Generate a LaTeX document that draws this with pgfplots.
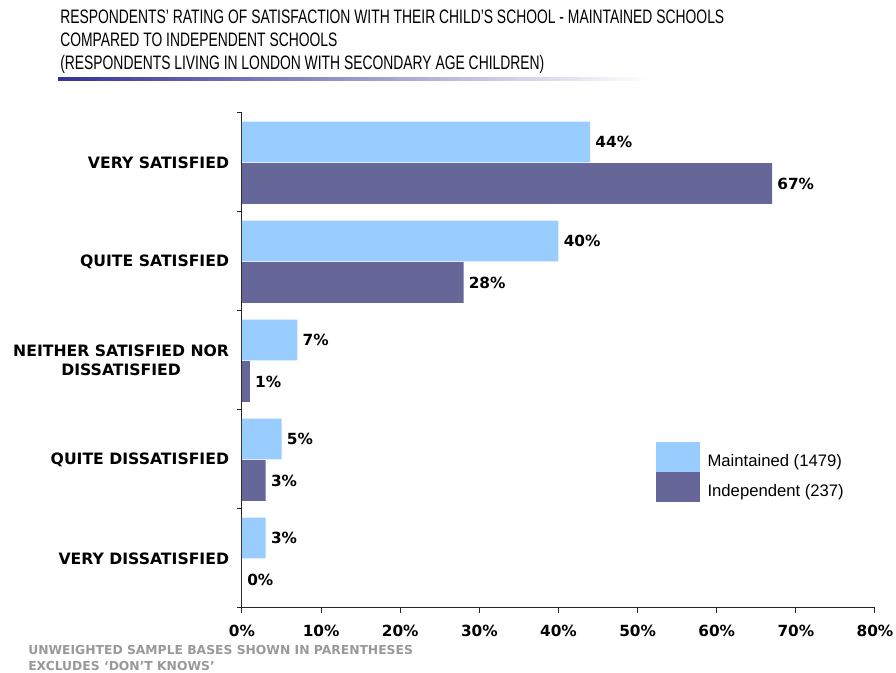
\documentclass[border=0pt]{standalone}
\usepackage{fontspec}
\setmainfont{DejaVu Sans}
\newfontfamily\titlefont[FakeStretch=0.713]{Liberation Sans}
\newfontfamily\legfont{Liberation Sans}
\usepackage{pgfplots}
\pgfplotsset{compat=1.18}
\definecolor{maint}{HTML}{99CCFF}
\definecolor{indep}{HTML}{666699}
\definecolor{ulblue}{HTML}{333399}
\definecolor{foot}{HTML}{999999}
\pgfplotsset{boxlegend/.style={legend image code/.code={\fill[##1] (0pt,-11.25pt) rectangle (33pt,11.25pt);}}}
\begin{document}
\begin{tikzpicture}[x=0.75pt,y=0.75pt]
% pixel coordinates: (X, 673 - Y)
\path[use as bounding box] (0,0) rectangle (896,673);
\begin{scope}[every node/.style={anchor=base west, inner sep=0pt, font=\titlefont\fontsize{14.6}{18}\selectfont}]
\node at (60,649) {RESPONDENTS’ RATING OF SATISFACTION WITH THEIR CHILD’S SCHOOL - MAINTAINED SCHOOLS};
\node at (60,626) {COMPARED TO INDEPENDENT SCHOOLS};
\node at (60,603) {(RESPONDENTS LIVING IN LONDON WITH SECONDARY AGE CHILDREN)};
\end{scope}
\shade[left color=ulblue, right color=white] (58,592) rectangle (650,595);
\begin{axis}[
  at={(181.5pt,48.75pt)}, anchor=south west, scale only axis,
  width=474.75pt, height=371.25pt,
  xmin=0, xmax=80, ymin=0, ymax=5,
  axis x line*=bottom, axis y line*=left,
  axis line style={-, black!85, line width=0.75pt},
  xtick={0,10,...,80},
  xticklabel={\pgfmathprintnumber{\tick}\%},
  ytick={0.5,1.5,2.5,3.5,4.5},
  yticklabels={VERY DISSATISFIED, QUITE DISSATISFIED, {NEITHER SATISFIED NOR\\DISSATISFIED}, QUITE SATISFIED, VERY SATISFIED},
  minor ytick={0,1,2,3,4,5},
  tick align=outside,
  xtick style={black!85, line width=0.75pt, /pgfplots/major tick length=3.75pt},
  ytick style={/pgfplots/major tick length=0pt},
  minor tick style={black!85, line width=0.75pt},
  minor tick length=3.75pt,
  /pgf/number format/assume math mode=true,
  ticklabel style={font=\bfseries\fontsize{11.5}{13}\selectfont},
  xticklabel style={inner sep=0pt, yshift=-8.6pt},
  yticklabel style={inner sep=0pt, xshift=-5.25pt, align=center, font=\bfseries\fontsize{11.75}{14.5}\selectfont},
  xbar, bar width=0.41, bar shift=0pt,
  point meta=x,
  nodes near coords={\pgfmathprintnumber{\pgfplotspointmeta}\%},
  every node near coord/.append style={anchor=west, inner sep=0pt, xshift=3.75pt, font=\bfseries\fontsize{11.5}{13}\selectfont, text=black},
  clip=false,
  legend style={at={(axis cs:52.32,1.677)}, anchor=north west, draw=none, fill=none, inner sep=0pt, row sep=0pt, column sep=5.5pt, font=\legfont\fontsize{12.5}{15}\selectfont, nodes={inner sep=0pt}},
  legend cell align=left,
]
\addplot[fill=maint, draw=none, boxlegend]
  coordinates {(44,4.707) (40,3.707) (7,2.707) (5,1.707) (3,0.707)};
\addlegendentry{\raisebox{-7.875pt}[0pt][0pt]{Maintained (1479)}}
\addplot[fill=indep, draw=none, boxlegend]
  coordinates {(67,4.288) (28,3.288) (1,2.288) (3,1.288) (0,0.288)};
\addlegendentry{\raisebox{-7.875pt}[0pt][0pt]{Independent (237)}}
\end{axis}
\begin{scope}[every node/.style={anchor=base west, inner sep=0pt, text=foot, font=\bfseries\fontsize{9.25}{11}\selectfont}]
\node at (28,18) {UNWEIGHTED SAMPLE BASES SHOWN IN PARENTHESES};
\node at (28,2) {EXCLUDES ‘DON’T KNOWS’};
\end{scope}
\end{tikzpicture}
\end{document}
